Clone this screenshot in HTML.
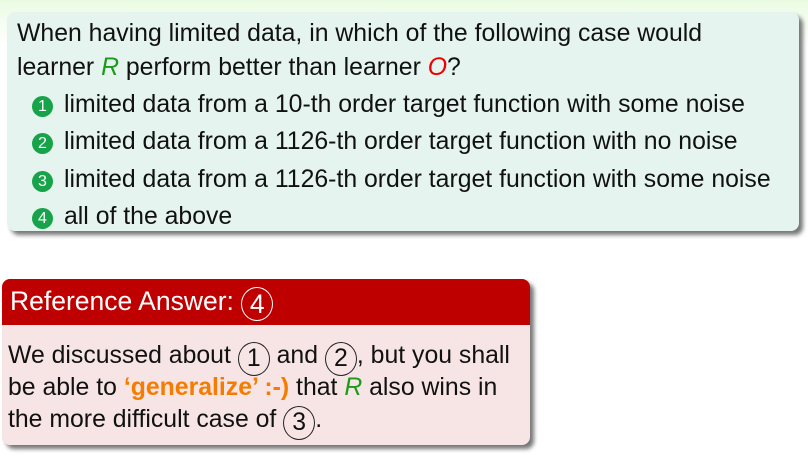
<!DOCTYPE html>
<html><head><style>
body{margin:0;width:808px;height:465px;background:linear-gradient(#eafbe2 0px,#f4fdf0 20px,#fff 45px);font-family:"Liberation Sans",sans-serif;font-size:24.8px;color:#111;position:relative;overflow:hidden}
.q{position:absolute;left:7px;top:12px;width:792px;height:219px;background:#e5f4ee;border-radius:8px;box-shadow:4px 4px 4px #777}
.t{position:absolute;white-space:nowrap}
.b{display:inline-block;width:21px;height:21px;border-radius:50%;background:#16a34a;color:#fff;font-size:16px;text-align:center;line-height:22px;vertical-align:1px;margin-right:11px}
.a{position:absolute;left:2px;top:279px;width:528px;height:166px;border-radius:8px;box-shadow:4px 4px 4px #777;overflow:hidden;background:#f7e4e4}
.h{height:46px;background:#bf0000;color:#fff;font-size:26.5px}
.c{display:inline-block;border:1.3px solid #222;border-radius:50%;width:30px;height:32px;line-height:32px;text-align:center;vertical-align:-3px}
.cw{border-color:#fff}
.g{color:#1a9c1a;font-style:italic}
.r{color:#e00;font-style:italic}
.o{color:#f57c00;font-weight:bold}
</style></head><body>
<div class="q"></div>
<div class="t" style="left:17px;top:20px">When having limited data, in which of the following case would</div>
<div class="t" style="left:17px;top:54px">learner <span class="g">R</span> perform better than learner <span class="r">O</span>?</div>
<div class="t" style="left:32px;top:91px"><span class="b">1</span>limited data from a 10-th order target function with some noise</div>
<div class="t" style="left:32px;top:128px"><span class="b">2</span>limited data from a 1126-th order target function with no noise</div>
<div class="t" style="left:32px;top:166px"><span class="b">3</span>limited data from a 1126-th order target function with some noise</div>
<div class="t" style="left:32px;top:203px"><span class="b">4</span>all of the above</div>
<div class="a"><div class="h"><span class="t" style="left:8px;top:7px">Reference Answer: <span class="c cw">4</span></span></div></div>
<div class="t" style="left:8px;top:342px">We discussed about <span class="c">1</span> and <span class="c">2</span>, but you shall</div>
<div class="t" style="left:8px;top:374px">be able to <span class="o">‘generalize’ :-)</span> that <span class="g">R</span> also wins in</div>
<div class="t" style="left:8px;top:406px">the more difficult case of <span class="c">3</span>.</div>
</body></html>
